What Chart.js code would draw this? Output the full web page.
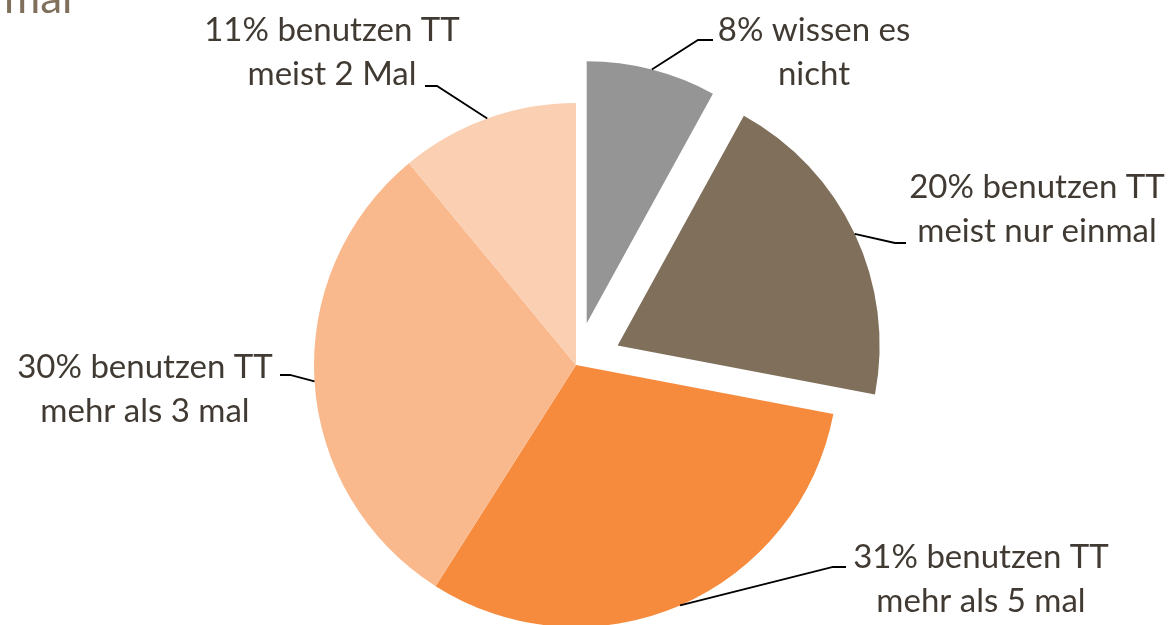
<!DOCTYPE html>
<html>
<head>
<meta charset="utf-8">
<script src="https://cdn.jsdelivr.net/npm/chart.js@4.4.1/dist/chart.umd.min.js"></script>
<style>
  html, body { margin: 0; padding: 0; background: #fff; }
  #wrap { width: 1169px; height: 625px; }
</style>
</head>
<body>
<div id="wrap"><canvas id="myChart" width="1169" height="625"></canvas></div>
<script>
// data, clockwise from 12 o'clock
const categories = ['wissen es nicht', 'meist nur einmal', 'mehr als 5 mal', 'mehr als 3 mal', 'meist 2 Mal'];
const shares = [8, 20, 31, 30, 11];
const labelLines = [
    ['8% wissen es', 'nicht'],
    ['20% benutzen TT', 'meist nur einmal'],
    ['31% benutzen TT', 'mehr als 5 mal'],
    ['30% benutzen TT', 'mehr als 3 mal'],
    ['11% benutzen TT', 'meist 2 Mal']
];
const sliceColors = ['#959595', '#7f6f5b', '#f68b3e', '#fab98c', '#fbcfb2'];
const explode = [43, 46, 0, 0, 0];

// label placement: text centre, first line y, leader elbow and end
const labelPos = [
    { x: 814, y: 30, elbow: [698, 40], end: [713, 40] },
    { x: 1037, y: 187, elbow: [895, 243], end: [906, 243] },
    { x: 981, y: 557, elbow: [833, 567], end: [846, 567] },
    { x: 145, y: 367, elbow: [290, 375], end: [280, 375] },
    { x: 332, y: 30, elbow: [437, 86], end: [425, 86] }
];

const textColor = '#403a33';
const labelFont = '33px Lato';
const lineGap = 44;

function shiftFor(el, i) {
    const mid = (el.startAngle + el.endAngle) / 2;
    return [Math.cos(mid) * explode[i], Math.sin(mid) * explode[i]];
}

const explodePlugin = {
    id: 'explode',
    beforeDatasetDraw(chart, args) {
        const ctx = chart.ctx;
        const meta = args.meta;
        meta.data.forEach(function (el, i) {
            const s = shiftFor(el, i);
            ctx.save();
            ctx.translate(s[0], s[1]);
            el.draw(ctx);
            ctx.restore();
        });
        return false;
    },
    afterDatasetsDraw(chart) {
        const ctx = chart.ctx;
        const meta = chart.getDatasetMeta(0);
        ctx.save();
        // cut-off title at the top left
        ctx.fillStyle = '#7f6f5b';
        ctx.font = '44px Lato';
        ctx.textAlign = 'left';
        ctx.textBaseline = 'alphabetic';
        ctx.fillText('mal', 4, 13);

        meta.data.forEach(function (el, i) {
            const s = shiftFor(el, i);
            const mid = (el.startAngle + el.endAngle) / 2;
            const ax = el.x + s[0] + Math.cos(mid) * el.outerRadius;
            const ay = el.y + s[1] + Math.sin(mid) * el.outerRadius;
            const p = labelPos[i];
            ctx.strokeStyle = '#000';
            ctx.lineWidth = 1.8;
            ctx.beginPath();
            ctx.moveTo(ax, ay);
            ctx.lineTo(p.elbow[0], p.elbow[1]);
            ctx.lineTo(p.end[0], p.end[1]);
            ctx.stroke();

            ctx.fillStyle = textColor;
            ctx.font = labelFont;
            ctx.textAlign = 'center';
            ctx.textBaseline = 'middle';
            labelLines[i].forEach(function (line, k) {
                ctx.fillText(line, p.x, p.y + k * lineGap);
            });
        });
        ctx.restore();
    }
};

const ctx = document.getElementById('myChart');

const myChart = new Chart(ctx, {
    type: 'pie',
    data: {
        labels: categories,
        datasets: [{
            data: shares,
            backgroundColor: sliceColors,
            borderWidth: 0,
            clip: false
        }]
    },
    options: {
        responsive: false,
        animation: false,
        radius: 262,
        layout: { padding: { left: 0, right: 17, top: 105, bottom: 0 } },
        plugins: {
            legend: { display: false },
            tooltip: { enabled: false }
        }
    },
    plugins: [explodePlugin]
});
</script>
</body>
</html>
